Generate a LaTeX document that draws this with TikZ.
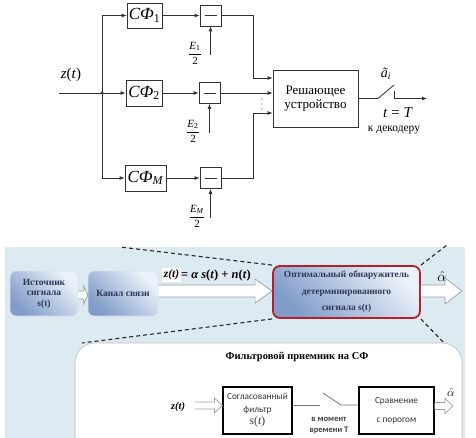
\documentclass[tikz,border=0pt]{standalone}
\usepackage{fontspec}
\setmainfont{Liberation Serif}
\newfontfamily\calfont{Carlito}
\usetikzlibrary{arrows.meta,calc}
\definecolor{bgblue}{RGB}{220,234,242}
\definecolor{boxlight}{RGB}{236,242,250}
\definecolor{boxdark}{RGB}{128,156,200}
\definecolor{txtblue}{RGB}{45,55,88}
\definecolor{detred}{RGB}{178,32,44}
\definecolor{linegray}{RGB}{50,50,50}
\definecolor{arrgray}{RGB}{150,160,170}
\newcommand\harr[5]{\draw[harrowst] ($(#1)+(0,-#3)$) -- ($(#2)+(-#5,-#3)$) -- ($(#2)+(-#5,-#4)$) -- (#2) -- ($(#2)+(-#5,#4)$) -- ($(#2)+(-#5,#3)$) -- ($(#1)+(0,#3)$);}
\begin{document}
\begin{tikzpicture}[x=1pt,y=-1pt,
  blk/.style={draw=linegray, line width=0.8pt, inner sep=0pt, fill=white},
  sfbox/.style={blk, font=\fontsize{17}{17}\selectfont},
  minusbox/.style={blk, minimum width=21pt, minimum height=21pt},
  arr/.style={-{Latex[length=5pt,width=4pt]}, line width=0.8pt, draw=linegray},
  ln/.style={line width=0.8pt, draw=linegray},
  efrac/.style={font=\fontsize{11}{11}\selectfont, inner sep=0pt},
  sbox/.style={rounded corners=6pt, draw=white!70!boxdark, line width=0.6pt,
     top color=boxlight, bottom color=boxdark, shading angle=-45, text=txtblue,
     font=\bfseries\fontsize{9.5}{10.5}\selectfont, align=center, inner sep=0pt},
  harrowst/.style={draw=arrgray, fill=white, line width=0.7pt},
  dline/.style={draw=black!85, line width=1.1pt, dash pattern=on 4pt off 3pt},
  fbox/.style={draw=black, line width=1.2pt, fill=white, inner sep=0pt, align=center,
     text=black!80, font=\calfont\fontsize{9.3}{13}\selectfont}
]
\useasboundingbox (0,0) rectangle (476,438);
\fill[white] (0,0) rectangle (476,438);

% ---------------- top diagram ----------------
\node[font=\fontsize{15}{15}\selectfont] (zl) at (71,75) {\textit{z}(\textit{t})};
\coordinate (zin) at (59,93);
\coordinate (j) at (102,93);

\node[sfbox, minimum width=35pt, minimum height=25pt] (sf1) at (144.5,15.5) {\textit{СФ}\textsubscript{1}};
\node[sfbox, minimum width=36pt, minimum height=26pt] (sf2) at (144,93) {\textit{СФ}\textsubscript{2}};
\node[sfbox, minimum width=41pt, minimum height=26pt] (sfM) at (145.5,178) {\textit{СФ}\textsubscript{\textit{M}}};

\draw[ln] (zin) -- (j);
\fill[linegray] (j) circle (1.6);
\draw[arr] (j) |- (sf1.west);
\draw[arr] (j) -- (sf2.west);
\draw[arr] (j) |- (sfM.west);

\node[minusbox] (m1) at (210.5,15.5) {};
\node[minusbox] (m2) at (209.5,93) {};
\node[minusbox] (mM) at (210.5,178) {};
\foreach \m in {m1,m2,mM}{\draw[line width=0.9pt, draw=linegray] ($(\m.center)+(-6,0)$) -- ($(\m.center)+(6,0)$);}

\draw[arr] (sf1) -- (m1);
\draw[arr] (sf2) -- (m2);
\draw[arr] (sfM) -- (mM);

\node[efrac] (e1) at (195,53) {\(\displaystyle\frac{\mbox{\textit{E}\textsubscript{1}}}{\mbox{2}}\)};
\node[efrac] (e2) at (193,131) {\(\displaystyle\frac{\mbox{\textit{E}\textsubscript{2}}}{\mbox{2}}\)};
\node[efrac] (eM) at (197,216) {\(\displaystyle\frac{\mbox{\textit{E}\textsubscript{\textit{M}}}}{\mbox{2}}\)};
\coordinate (e1a) at (210.5,55);
\coordinate (e2a) at (209.5,133);
\coordinate (eMa) at (210.5,218);
\draw[arr] (e1a) -- (m1.south);
\draw[arr] (e2a) -- (m2.south);
\draw[arr] (eMa) -- (mM.south);

\node[blk, minimum width=85pt, minimum height=57pt, align=center,
      font=\fontsize{13}{14}\selectfont] (rd) at (315.5,98.5) {Решающее\\устройство};
\coordinate (c1) at (253,78);
\coordinate (c3) at (253,113);
\draw[arr] (m1.east) -| (c1) -- (c1 -| rd.west);
\draw[arr] (m2.east) -- (m2.east -| rd.west);
\draw[arr] (mM.east) -| (c3) -- (c3 -| rd.west);
\foreach \yy in {99,104,109}{\fill[linegray] (262,\yy) circle (0.7);}

\coordinate (s1) at (378,98.5);
\coordinate (s2) at (394,85);
\coordinate (s3) at (394,91);
\coordinate (s4) at (394,98.5);
\coordinate (sout) at (427,98.5);
\draw[ln] (rd.east) -- (s1) -- (s2);
\draw[ln] (s3) -- (s4);
\draw[arr] (s4) -- (sout);
\node[font=\fontsize{14}{14}\selectfont, inner sep=0pt] (al) at (386,74) {\textit{ã}\textsubscript{\textit{i}}};
\node[font=\fontsize{15}{15}\selectfont] (tl) at (398,113) {\textit{t} = \textit{T}};
\node[font=\fontsize{11.5}{12}\selectfont] (kd) at (394,130) {к декодеру};

% ---------------- bottom diagram ----------------
\fill[bgblue] (5,247) rectangle (465,440);

\node[sbox, minimum width=68pt, minimum height=45pt] (src) at (44,293.5) {Источник\\сигнала\\s(t)};
\node[sbox, minimum width=70pt, minimum height=45pt] (ch) at (123,293.5) {Канал связи};
\node[sbox, draw=detred, line width=1.8pt, rounded corners=7pt, minimum width=147pt, minimum height=52pt,
      font=\bfseries\fontsize{9.4}{16.5}\selectfont] (det) at (346.5,292) {Оптимальный обнаружитель\\детерминированного\\сигнала s(t)};

\coordinate (a1s) at (src.east |- 0,295);
\coordinate (a1e) at (ch.west |- 0,295);
\harr{a1s}{a1e}{4}{9}{4}
\coordinate (a2s) at (ch.east |- 0,291);
\coordinate (a2e) at (det.west |- 0,291);
\harr{a2s}{a2e}{6}{12}{17}
\coordinate (a3s) at (det.east |- 0,291);
\coordinate (a3e) at (462,291);
\harr{a3s}{a3e}{6}{13}{17}

\node[fill=white, inner sep=1.5pt, font=\bfseries\itshape\fontsize{11.5}{11.5}\selectfont] (zt) at (171.5,275) {z(t)};
\node[anchor=west, inner sep=0pt, font=\bfseries\fontsize{12.5}{12.5}\selectfont] (form) at (zt.east) {= \textit{α s}(\textit{t}) + \textit{n}(\textit{t})};
\node[font=\fontsize{14}{14}\selectfont] (ah1) at (442,276) {\(\hat{\alpha}\)};

\coordinate (tl1) at (120,247);
\coordinate (bl1) at (82,343);
\coordinate (tr1) at (447,245);
\coordinate (br1) at (443,342);
\draw[dline] (det.north west) -- (tl1);
\draw[dline] (det.south west) -- (bl1);
\draw[dline] (det.north east) -- (tr1);
\draw[dline] (det.south east) -- (br1);

\draw[draw=black!25, fill=white, line width=0.6pt, rounded corners=20pt] (75,343) rectangle (462,462);

\node[font=\bfseries\fontsize{10.5}{12}\selectfont] (ftitle) at (297,357) {Фильтровой приемник на СФ};

\node[fbox, minimum width=69pt, minimum height=47pt] (mf) at (257.5,410.5) {Согласованный\\фильтр\\[-1pt]{\rmfamily\fontsize{11.5}{11.5}\selectfont\textit{s}(\textit{t})}};
\node[fbox, minimum width=75pt, minimum height=47pt] (cmp) at (396.5,410.5) {Сравнение\\[6pt]с порогом};

\coordinate (b1) at (320,405);
\coordinate (b2) at (323,393);
\coordinate (b3) at (341,405);
\draw[draw=black!55, line width=0.8pt] (mf.east |- b1) -- (b1);
\draw[draw=black!55, line width=0.8pt] (b2) -- (b3) -- (b3 -| cmp.west);
\node[font=\calfont\bfseries\fontsize{8.5}{11}\selectfont, text=black!75, align=center] (mom) at (329,425.5) {в момент\\времени T};

\node[font=\bfseries\itshape\fontsize{10.5}{10.5}\selectfont] (zt2) at (178,407) {z(t)};
\coordinate (b4s) at (195,405.5);
\coordinate (b4e) at (mf.west |- b4s);
\harr{b4s}{b4e}{3.5}{7.5}{8}
\coordinate (b5s) at (cmp.east |- 0,406);
\coordinate (b5e) at (453,406);
\harr{b5s}{b5e}{3.5}{7.5}{8}
\node[font=\fontsize{13}{13}\selectfont] (ah2) at (451,392) {\(\hat{\alpha}\)};
\end{tikzpicture}
\end{document}
